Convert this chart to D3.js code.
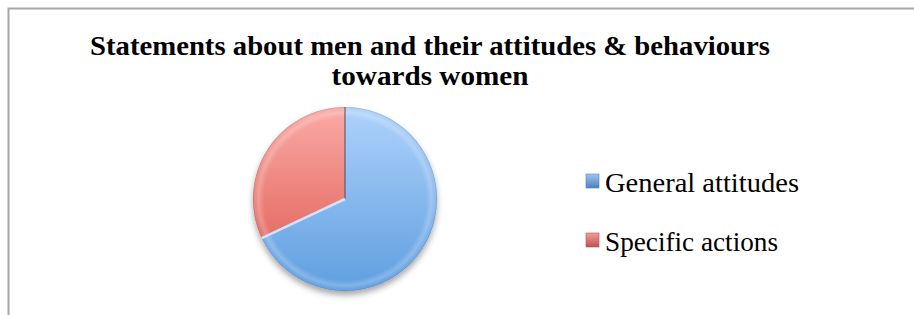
<!DOCTYPE html>
<html>
<head>
<meta charset="utf-8">
<script src="https://cdn.jsdelivr.net/npm/d3@7/dist/d3.min.js"></script>
<style>
  html, body { margin: 0; padding: 0; background: #fff; }
  svg { display: block; }
  text { font-family: "Liberation Serif", "DejaVu Serif", serif; fill: #000; }
</style>
</head>
<body>
<div id="chart"></div>
<script>
// data
const categories = ["General attitudes", "Specific actions"];
const shares = [68, 32];
const titleLines = ["Statements about men and their attitudes & behaviours", "towards women"];

const width = 914, height = 315;
const svg = d3.select("#chart").append("svg")
    .attr("width", width)
    .attr("height", height);

const defs = svg.append("defs");

// slice gradients (light top, darker bottom)
const palette = [
    { id: "gBlue", top: "#aed2fb", bottom: "#5f9ee0", edge: "#4a84c4", key: "#4f81bd", keyTop: "#9fc3ee" },
    { id: "gRed", top: "#fbaaa6", bottom: "#e56e66", edge: "#c0504d", key: "#c0504d", keyTop: "#f0a09c" }
];
palette.forEach(p => {
    let g = defs.append("linearGradient").attr("id", p.id)
        .attr("x1", 0).attr("y1", 0).attr("x2", 0).attr("y2", 1);
    g.append("stop").attr("offset", "0%").attr("stop-color", p.top);
    g.append("stop").attr("offset", "100%").attr("stop-color", p.bottom);
    let k = defs.append("linearGradient").attr("id", p.id + "Key")
        .attr("x1", 0).attr("y1", 0).attr("x2", 0).attr("y2", 1);
    k.append("stop").attr("offset", "0%").attr("stop-color", p.keyTop);
    k.append("stop").attr("offset", "100%").attr("stop-color", p.key);
});

// bevel: light band just inside the rim, darker at the very edge
const bevel = defs.append("radialGradient").attr("id", "bevel")
    .attr("cx", "50%").attr("cy", "50%").attr("r", "50%");
bevel.append("stop").attr("offset", "88%").attr("stop-color", "#fff").attr("stop-opacity", 0);
bevel.append("stop").attr("offset", "94%").attr("stop-color", "#fff").attr("stop-opacity", 0.22);
bevel.append("stop").attr("offset", "98%").attr("stop-color", "#fff").attr("stop-opacity", 0.05);
bevel.append("stop").attr("offset", "100%").attr("stop-color", "#203050").attr("stop-opacity", 0.25);

// soft shadow under the pie
const shadow = defs.append("filter").attr("id", "shadow")
    .attr("x", "-20%").attr("y", "-20%").attr("width", "140%").attr("height", "150%");
shadow.append("feGaussianBlur").attr("in", "SourceAlpha").attr("stdDeviation", 3);
shadow.append("feOffset").attr("dx", 0).attr("dy", 4).attr("result", "off");
shadow.append("feComponentTransfer").append("feFuncA").attr("type", "linear").attr("slope", 0.35);
const merge = shadow.append("feMerge");
merge.append("feMergeNode");
merge.append("feMergeNode").attr("in", "SourceGraphic");

// chart frame
svg.append("rect")
    .attr("x", 8.5).attr("y", 8.5)
    .attr("width", width + 20).attr("height", height + 20)
    .attr("fill", "none")
    .attr("stroke", "#a6a6a6")
    .attr("stroke-width", 2);

// title
const titleX = 430;
const titleSizes = [680, 197];
const titleBase = [55, 85];
titleLines.forEach((t, i) => {
    svg.append("text")
        .attr("x", titleX)
        .attr("y", titleBase[i])
        .attr("text-anchor", "middle")
        .attr("font-size", 27)
        .attr("font-weight", "bold")
        .attr("textLength", titleSizes[i])
        .attr("lengthAdjust", "spacingAndGlyphs")
        .text(t);
});

// pie
const cx = 345, cy = 199, r = 92;
const pie = d3.pie().sort(null);
const arcs = pie(shares);
const arc = d3.arc().innerRadius(0).outerRadius(r);

const g = svg.append("g").attr("transform", `translate(${cx},${cy})`);
const pieG = g.append("g").attr("filter", "url(#shadow)");

pieG.selectAll("path.slice")
    .data(arcs)
    .enter()
    .append("path")
    .attr("class", "slice")
    .attr("d", arc)
    .attr("fill", (d, i) => `url(#${palette[i].id})`);

g.append("circle")
    .attr("r", r)
    .attr("fill", "url(#bevel)");

// slice dividers
arcs.forEach((d, i) => {
    let a = d.startAngle;
    g.append("line")
        .attr("x1", 0).attr("y1", 0)
        .attr("x2", r * Math.sin(a)).attr("y2", -r * Math.cos(a))
        .attr("stroke", i === 0 ? "#4a4a58" : "#d4eaff")
        .attr("stroke-width", i === 0 ? 1.2 : 2.5)
        .attr("opacity", i === 0 ? 0.8 : 0.9);
});

// legend
const legend = svg.append("g").attr("transform", "translate(586,174)");
const legendWidths = [194, 173];
const item = legend.selectAll("g")
    .data(categories)
    .enter()
    .append("g")
    .attr("transform", (d, i) => `translate(0,${i * 59})`);

item.append("rect")
    .attr("width", 13).attr("height", 14)
    .attr("fill", (d, i) => `url(#${palette[i].id}Key)`)
    .attr("stroke", (d, i) => palette[i].edge)
    .attr("stroke-width", 0.6);

item.append("text")
    .attr("x", 19)
    .attr("y", 18)
    .attr("font-size", 27)
    .attr("textLength", (d, i) => legendWidths[i])
    .attr("lengthAdjust", "spacingAndGlyphs")
    .text(d => d);
</script>
</body>
</html>
